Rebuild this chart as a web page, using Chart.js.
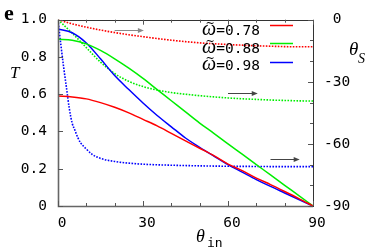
<!DOCTYPE html>
<html><head><meta charset="utf-8">
<script src="https://cdn.jsdelivr.net/npm/chart.js@4.4.1/dist/chart.umd.min.js"></script>
<style>html,body{margin:0;padding:0;background:#fff}</style>
</head><body>
<canvas id="c" width="374" height="252"></canvas>
<script>
// ---- data ----
const angles   = [0,5,10,15,20,25,30,35,40,45,50,55,60,65,70,75,80,85,90];
const T078     = [0.59,0.585,0.575,0.555,0.53,0.50,0.465,0.43,0.39,0.35,0.31,0.27,0.225,0.19,0.15,0.115,0.078,0.04,0];
const T088     = [0.895,0.89,0.87,0.835,0.79,0.74,0.685,0.625,0.565,0.505,0.445,0.39,0.333,0.278,0.222,0.167,0.111,0.056,0];
const T098     = [0.95,0.93,0.875,0.79,0.70,0.625,0.553,0.486,0.425,0.365,0.315,0.268,0.222,0.182,0.142,0.105,0.07,0.035,0];
const S078     = [0,-2,-3.6,-5,-6.2,-7.3,-8.2,-9.1,-9.9,-10.6,-11.2,-11.6,-12.0,-12.3,-12.6,-12.8,-13.0,-13.1,-13.1];
const S088     = [0,-6.5,-13.5,-20.5,-26,-29.8,-32.3,-34,-35.2,-36,-36.7,-37.3,-37.8,-38.2,-38.5,-38.8,-39,-39.2,-39.3];
const anglesFine = [0,1,2,3,4,5,6,7,8,10,12,15,20,25,30,40,50,60,70,80,90];
const S098     = [0,-12,-23,-33,-43,-50,-53.5,-57,-59.5,-62.5,-65,-67,-68.5,-69.3,-69.8,-70.3,-70.6,-70.8,-70.9,-71,-71];
const omegas   = ['0.78','0.88','0.98'];
const xTickStep = 30, xMinorStep = 10;
const yTickStep = 0.2;
const y2TickStep = 30, y2MinorStep = 10;

// ---- styles ----
const colors = ['#ff0000','#00ee00','#0000ff'];
const mono = '"DejaVu Sans Mono", "Liberation Mono", monospace';
const serif = '"Liberation Serif", "DejaVu Serif", serif';
// arrow annotations (in data units of x / left T axis)
const arrowNotes = [
  {x0:20, x1:30.3, t:0.943, color:'#888'},
  {x0:60, x1:70.5, t:0.604, color:'#444'},
  {x0:75, x1:85.3, t:0.254, color:'#444'}
];

const pts = (xs, ys) => xs.map((x,i)=>({x:x, y:ys[i]}));
function ds(label, xs, ys, color, axis, dotted){
  return {label, data: pts(xs,ys), borderColor: color, backgroundColor: color,
    yAxisID: axis, borderWidth: dotted?1.6:1.5, pointRadius:0,
    borderDash: dotted?[1.6,1.4]:[], cubicInterpolationMode:'monotone', fill:false};
}

const decor = {
  id:'decor',
  afterDatasetsDraw(chart){
    const ctx = chart.ctx, a = chart.chartArea;
    const sx = chart.scales.x, sy = chart.scales.y, s2 = chart.scales.y2;
    ctx.save();
    // frame
    ctx.strokeStyle = '#333'; ctx.lineWidth = 1;
    ctx.strokeRect(Math.round(a.left)+0.5, Math.round(a.top)+0.5, Math.round(a.right-a.left), Math.round(a.bottom-a.top));
    ctx.strokeStyle = '#666'; ctx.lineWidth = 1.6;
    ctx.beginPath();
    ctx.moveTo(a.left+0.5, a.top); ctx.lineTo(a.left+0.5, a.bottom+0.5); ctx.lineTo(a.right, a.bottom+0.5);
    ctx.stroke();
    // inward ticks
    ctx.strokeStyle = '#555'; ctx.lineWidth = 1;
    ctx.beginPath();
    for (let v = sx.min; v <= sx.max + 1e-9; v += xMinorStep){
      const px = Math.round(sx.getPixelForValue(v)) + 0.5;
      const L = (Math.abs(v % xTickStep) < 1e-9) ? 5 : 3;
      ctx.moveTo(px, a.bottom); ctx.lineTo(px, a.bottom - L);
      ctx.moveTo(px, a.top); ctx.lineTo(px, a.top + L);
    }
    for (let v = sy.min; v <= sy.max + 1e-9; v += yTickStep){
      const py = Math.round(sy.getPixelForValue(v)) + 0.5;
      ctx.moveTo(a.left, py); ctx.lineTo(a.left + 5, py);
    }
    for (let v = s2.min; v <= s2.max + 1e-9; v += y2MinorStep){
      const py = Math.round(s2.getPixelForValue(v)) + 0.5;
      const L = (Math.abs(v % y2TickStep) < 1e-9) ? 5 : 3;
      ctx.moveTo(a.right, py); ctx.lineTo(a.right - L, py);
    }
    ctx.stroke();
    // arrows
    arrowNotes.forEach(n=>{
      const x0 = sx.getPixelForValue(n.x0), x1 = sx.getPixelForValue(n.x1);
      const y = Math.round(sy.getPixelForValue(n.t)) + 0.5;
      ctx.strokeStyle = n.color; ctx.fillStyle = n.color; ctx.lineWidth = 1;
      ctx.beginPath(); ctx.moveTo(x0, y); ctx.lineTo(x1 - 3, y); ctx.stroke();
      ctx.beginPath(); ctx.moveTo(x1, y); ctx.lineTo(x1 - 6, y - 2.5); ctx.lineTo(x1 - 6, y + 2.5); ctx.closePath(); ctx.fill();
    });
    // legend
    const lineY = [25.5, 43.5, 62.5];
    const baseY = [35, 53, 70];
    omegas.forEach((w,i)=>{
      ctx.fillStyle = '#000'; ctx.textBaseline = 'alphabetic';
      ctx.font = '14.5px ' + mono; ctx.textAlign = 'right';
      const num = '=' + w;
      ctx.fillText(num, 260, baseY[i]);
      const wNum = ctx.measureText(num).width;
      ctx.font = 'italic 20px ' + serif; ctx.textAlign = 'right';
      const oRight = Math.round(260 - wNum);
      ctx.fillText('\u03C9', oRight, baseY[i]);
      const wO = ctx.measureText('\u03C9').width;
      ctx.font = '11px "DejaVu Sans", sans-serif'; ctx.textAlign = 'center';
      ctx.fillText('~', Math.round(oRight - wO/2 + 1), baseY[i] - 8);
      ctx.strokeStyle = colors[i]; ctx.lineWidth = 1.5;
      ctx.beginPath(); ctx.moveTo(270, lineY[i]); ctx.lineTo(293, lineY[i]); ctx.stroke();
    });
    // titles
    ctx.fillStyle = '#000'; ctx.textAlign = 'left'; ctx.textBaseline = 'alphabetic';
    ctx.font = 'bold 22px ' + serif; ctx.fillText('e', 4, 20);
    ctx.font = 'italic 17px ' + serif; ctx.fillText('T', 10, 78);
    ctx.font = 'italic 19px ' + serif; ctx.fillText('\u03B8', 349, 55);
    ctx.font = 'italic 14px ' + serif; ctx.fillText('S', 358, 63);
    ctx.font = 'italic 18px ' + serif; ctx.fillText('\u03B8', 196, 242);
    ctx.font = '13px ' + mono; ctx.fillText('in', 207, 247);
    ctx.restore();
  }
};

const tickFont = {family: mono, size: 14.5};
new Chart(document.getElementById('c'), {
  type: 'line',
  data: { datasets: [
    ds('T ω=0.78', angles, T078, colors[0], 'y', false),
    ds('T ω=0.88', angles, T088, colors[1], 'y', false),
    ds('T ω=0.98', angles, T098, colors[2], 'y', false),
    ds('θS ω=0.78', angles, S078, colors[0], 'y2', true),
    ds('θS ω=0.88', angles, S088, colors[1], 'y2', true),
    ds('θS ω=0.98', anglesFine, S098, colors[2], 'y2', true)
  ]},
  options: {
    responsive: false, animation: false, devicePixelRatio: 1,
    layout: {padding: {top: 14, left: 0, right: 0, bottom: 0}},
    plugins: {legend: {display: false}, tooltip: {enabled: false}},
    scales: {
      x: {type: 'linear', min: 0, max: 90, position: 'bottom',
          ticks: {stepSize: xTickStep, font: tickFont, color: '#000', padding: 9, labelOffset: 4, maxRotation: 0, autoSkip: false},
          grid: {display: false, drawTicks: false}, border: {display: false},
          afterFit: s => { s.height = 46; }},
      y: {type: 'linear', min: 0, max: 1, position: 'left',
          ticks: {stepSize: yTickStep, font: tickFont, color: '#000', padding: 11},
          grid: {display: false, drawTicks: false}, border: {display: false},
          afterFit: s => { s.width = 58; }},
      y2: {type: 'linear', min: -90, max: 0, position: 'right',
          ticks: {stepSize: y2TickStep, font: tickFont, color: '#000', padding: 11, crossAlign: 'center'},
          grid: {display: false, drawTicks: false}, border: {display: false},
          afterFit: s => { s.width = 61; }}
    }
  },
  plugins: [decor]
});
</script>
</body></html>
